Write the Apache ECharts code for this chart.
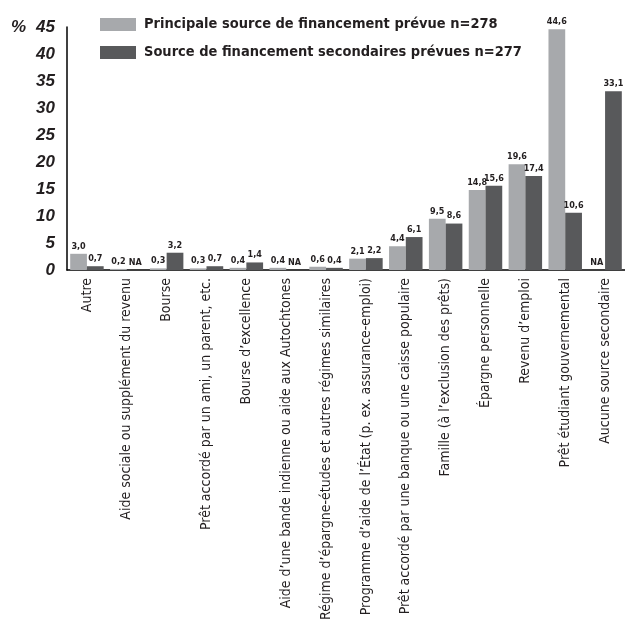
<!DOCTYPE html>
<html>
<head>
<meta charset="utf-8">
<script src="https://cdn.jsdelivr.net/npm/echarts@6/dist/echarts.min.js"></script>
<style>
  html, body { margin: 0; padding: 0; background: #fff; }
  #chart { width: 625px; height: 620px; }
</style>
</head>
<body>
<div id="chart"></div>
<script>
// Sources of financing, % of respondents (null = NA)
const categories = [
  'Autre',
  'Aide sociale ou supplément du revenu',
  'Bourse',
  'Prêt accordé par un ami, un parent, etc.',
  'Bourse d’excellence',
  'Aide d’une bande indienne ou aide aux Autochtones',
  'Régime d’épargne-études et autres régimes similaires',
  'Programme d’aide de l’État (p. ex. assurance-emploi)',
  'Prêt accordé par une banque ou une caisse populaire',
  'Famille (à l’exclusion des prêts)',
  'Épargne personnelle',
  'Revenu d’emploi',
  'Prêt étudiant gouvernemental',
  'Aucune source secondaire'
];
const principale = [3.0, 0.2, 0.3, 0.3, 0.4, 0.4, 0.6, 2.1, 4.4, 9.5, 14.8, 19.6, 44.6, null];
const secondaires = [0.7, null, 3.2, 0.7, 1.4, null, 0.4, 2.2, 6.1, 8.6, 15.6, 17.4, 10.6, 33.1];
const seriesNames = [
  'Principale source de financement prévue n=278',
  'Source de financement secondaires prévues n=277'
];
const yTicks = { min: 0, max: 45, step: 5 };

const NARROW = '"Liberation Sans Narrow", "DejaVu Sans Condensed", "Liberation Sans", sans-serif';
const TEXT = '#231f20';

// Missing values are drawn as a zero-height bar labelled "NA"
function toData(arr) {
  return arr.map(v => v === null
    ? { value: 0, label: { formatter: 'NA' } }
    : v);
}
const fmt = p => p.value.toFixed(1).replace('.', ',');

const barLabel = {
  show: true, position: 'top', distance: 3, formatter: fmt,
  fontFamily: NARROW, fontWeight: 'bold', fontSize: 9, color: TEXT
};

const chart = echarts.init(document.getElementById('chart'), null, { renderer: 'canvas' });
chart.setOption({
  animation: false,
  backgroundColor: '#fff',
  grid: {
    left: 67, right: 0, top: 27, height: 243,
    containLabel: false,
    outerBoundsMode: 'none'
  },
  legend: {
    orient: 'vertical',
    left: 100,
    top: 17,
    padding: 0,
    itemWidth: 36,
    itemHeight: 13,
    itemGap: 13,
    icon: 'rect',
    textStyle: {
      fontFamily: NARROW,
      fontWeight: 'bold',
      fontSize: 14.5,
      color: TEXT,
      padding: [0, 0, 0, 3]
    },
    data: seriesNames
  },
  xAxis: {
    type: 'category',
    data: categories,
    axisLine: { lineStyle: { color: '#000', width: 1.5 } },
    axisTick: { show: false },
    axisLabel: {
      rotate: 90,
      interval: 0,
      margin: 8,
      fontFamily: NARROW,
      fontSize: 14,
      color: TEXT
    }
  },
  yAxis: {
    type: 'value',
    min: yTicks.min,
    max: yTicks.max,
    interval: yTicks.step,
    splitLine: { show: false },
    axisTick: { show: false },
    axisLine: { show: true, lineStyle: { color: '#000', width: 1.5 } },
    axisLabel: {
      margin: 12,
      fontFamily: '"Liberation Sans", Arial, sans-serif',
      fontWeight: 'bold',
      fontStyle: 'italic',
      fontSize: 17,
      color: TEXT
    }
  },
  graphic: [{
    type: 'text',
    left: 11,
    top: 19,
    style: {
      text: '%',
      fontFamily: '"Liberation Sans", Arial, sans-serif',
      fontWeight: 'bold',
      fontStyle: 'italic',
      fontSize: 17,
      fill: TEXT
    }
  }],
  series: [
    {
      name: seriesNames[0],
      type: 'bar',
      data: toData(principale),
      itemStyle: { color: '#a7a9ac' },
      barGap: '0%',
      barCategoryGap: '16%',
      label: barLabel
    },
    {
      name: seriesNames[1],
      type: 'bar',
      data: toData(secondaires),
      itemStyle: { color: '#58595b' },
      barGap: '0%',
      barCategoryGap: '16%',
      label: barLabel
    }
  ]
});
</script>
</body>
</html>
